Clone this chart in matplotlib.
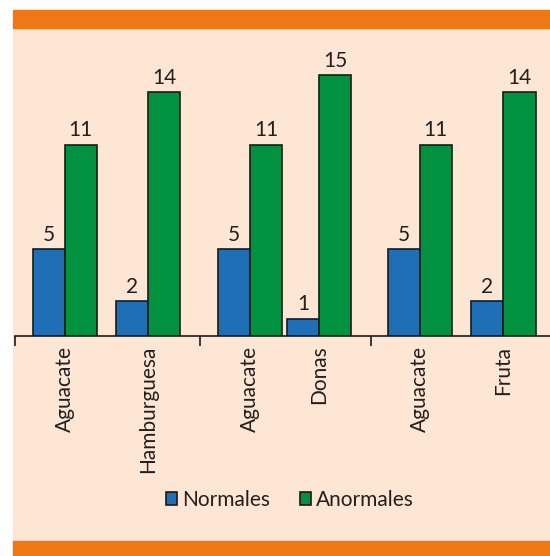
import matplotlib
matplotlib.use("Agg")
import matplotlib.pyplot as plt
from matplotlib.patches import Rectangle
import numpy as np

# data
categories = ["Aguacate", "Hamburguesa", "Aguacate", "Donas", "Aguacate", "Fruta"]
normales = [5, 2, 5, 1, 5, 2]
anormales = [11, 14, 11, 15, 11, 14]
series_names = ["Normales", "Anormales"]

# layout (pair centres, in units of pair spacing)
pos = np.array([0, 1, 2.23, 3.06, 4.27, 5.28])
group_ticks = [-0.60, 1.63, 3.69]
w = 0.386

blue = "#1f6fb6"
green = "#00923f"
peach = "#fde6d4"
orange = "#f07814"
txt = "#231f20"

plt.rcParams["font.family"] = ["Lato", "DejaVu Sans"]

fig = plt.figure(figsize=(5.5, 5.56), dpi=100)

# background panel + orange bands
for y0, h, c in [(0, 1 - 28 / 556, peach), (1 - 28 / 556, 18 / 556, orange), (0, 15 / 556, orange)]:
    fig.patches.append(Rectangle((13 / 550, y0), 1, h, transform=fig.transFigure,
                                 color=c, zorder=-5))

ax = fig.add_axes([15 / 550, 1 - 336 / 556, 535 / 550, 287 / 556])
ax.set_zorder(2)
ax.patch.set_alpha(0)

b1 = ax.bar(pos - w / 2, normales, w, color=blue, edgecolor="#1a1a1a", lw=1.2, label=series_names[0])
b2 = ax.bar(pos + w / 2, anormales, w, color=green, edgecolor="#1a1a1a", lw=1.2, label=series_names[1])
for bars in (b1, b2):
    ax.bar_label(bars, padding=3, fontsize=15, color=txt)

ax.set_xlim(-0.60, 5.84)
ax.set_ylim(0, 16.5)
for s in ["top", "right", "left"]:
    ax.spines[s].set_visible(False)
ax.spines["bottom"].set_color("#1a1a1a")
ax.spines["bottom"].set_linewidth(1.2)
ax.set_yticks([])
ax.set_xticks(group_ticks)
ax.set_xticklabels([])
ax.tick_params(axis="x", length=7, width=1.2, color="#1a1a1a")
for p, c in zip(pos, categories):
    ax.text(p, -0.55, c, rotation=90, ha="center", va="top", fontsize=15, color=txt)

fig.legend(handles=[b1, b2], labels=series_names, loc="center",
           bbox_to_anchor=(290 / 550, 1 - 500 / 556), ncol=2, frameon=False,
           fontsize=15, handlelength=0.55, handleheight=0.55, handletextpad=0.25,
           columnspacing=1.4, labelcolor=txt)

plt.savefig("out.png", dpi=100)
